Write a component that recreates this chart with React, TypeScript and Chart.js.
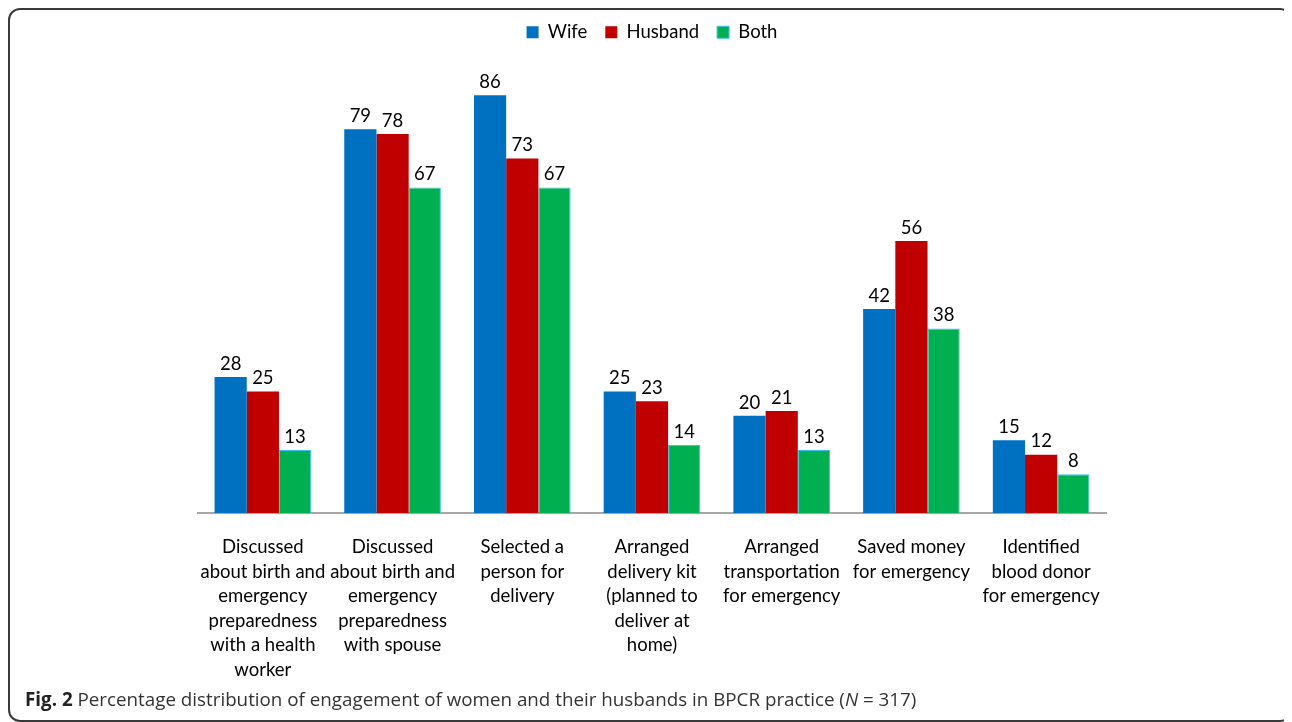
import React, { useEffect, useRef } from "react";
import { Chart, registerables } from "chart.js";

Chart.register(...registerables);

const categories: string[][] = [
  ["Discussed", "about birth and", "emergency", "preparedness", "with a health", "worker"],
  ["Discussed", "about birth and", "emergency", "preparedness", "with spouse"],
  ["Selected a", "person for", "delivery"],
  ["Arranged", "delivery kit", "(planned to", "deliver at", "home)"],
  ["Arranged", "transportation", "for emergency"],
  ["Saved money", "for emergency"],
  ["Identified", "blood donor", "for emergency"],
];

const wife = [28, 79, 86, 25, 20, 42, 15];
const husband = [25, 78, 73, 23, 21, 56, 12];
const both = [13, 67, 67, 14, 13, 38, 8];

const FONT = "Lato, 'Noto Sans', sans-serif";

const valueLabels = {
  id: "valueLabels",
  afterDatasetsDraw(chart: any) {
    const ctx = chart.ctx;
    ctx.save();
    ctx.font = `18.5px ${FONT}`;
    ctx.fillStyle = "#000";
    ctx.textAlign = "center";
    ctx.textBaseline = "bottom";
    chart.data.datasets.forEach((ds: any, i: number) => {
      const meta = chart.getDatasetMeta(i);
      meta.data.forEach((el: any, j: number) => {
        ctx.fillText(String(ds.data[j]), el.x, el.y - 4);
      });
    });
    ctx.restore();
  },
};

export default function App() {
  const ref = useRef<HTMLCanvasElement>(null);
  useEffect(() => {
    document.documentElement.style.overflow = "hidden";
    const chart = new Chart(ref.current!, {
      type: "bar",
      data: {
        labels: categories,
        datasets: [
          { label: "Wife", data: wife, backgroundColor: "#0070C0", borderColor: "#0070C0", borderWidth: 0 },
          { label: "Husband", data: husband, backgroundColor: "#C00000", borderColor: "#C00000", borderWidth: 0 },
          { label: "Both", data: both, backgroundColor: "#00B050", borderColor: "#3FC0F0", borderWidth: 1 },
        ],
      },
      options: {
        responsive: false,
        animation: false,
        layout: { padding: { left: 188, right: 184, top: -5, bottom: 8 } },
        datasets: { bar: { barPercentage: 1, categoryPercentage: 0.745 } },
        plugins: {
          legend: {
            position: "top",
            labels: {
              boxWidth: 12,
              boxHeight: 12,
              padding: 18,
              color: "#000",
              font: { family: FONT, size: 18.5 },
            },
          },
          tooltip: { enabled: false },
        },
        scales: {
          x: {
            grid: { display: false },
            border: { display: true, color: "#A6A6A6", width: 2 },
            ticks: {
              color: "#000",
              font: { family: FONT, size: 18.5, lineHeight: 1.324 },
              maxRotation: 0,
              autoSkip: false,
              padding: 14,
            },
          },
          y: {
            display: false,
            min: 0,
            max: 95,
          },
        },
      },
      plugins: [valueLabels],
    });
    return () => chart.destroy();
  }, []);

  return (
    <div
      style={{
        position: "relative",
        width: 1280,
        height: 710,
        border: "2px solid #3a3a3a",
        borderRadius: 12,
        background: "#fff",
      }}
    >
      <canvas ref={ref} width={1280} height={694} style={{ position: "absolute", left: 0, top: 0 }} />
      <div
        style={{
          position: "absolute",
          left: 15,
          top: 676,
          fontFamily: "'Open Sans', 'Noto Sans', sans-serif",
          fontSize: 18.8,
          color: "#333",
          whiteSpace: "nowrap",
        }}
      >
        <b style={{ color: "#222" }}>Fig. 2</b> Percentage distribution of engagement of women and their husbands in BPCR practice (<i>N</i> = 317)
      </div>
    </div>
  );
}
